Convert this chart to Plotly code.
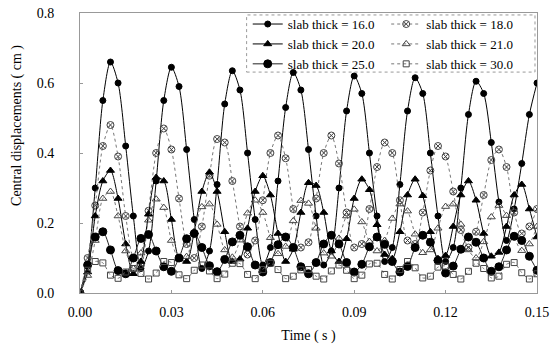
import plotly.graph_objects as go

# time samples (s)
time = [round(0.0025 * i, 4) for i in range(61)]

thick_16 = [0.00, 0.08, 0.30, 0.55, 0.66, 0.60, 0.42, 0.22, 0.07, 0.12,
            0.32, 0.55, 0.645, 0.59, 0.41, 0.21, 0.07, 0.12, 0.31, 0.54,
            0.635, 0.58, 0.40, 0.21, 0.08, 0.13, 0.32, 0.53, 0.63, 0.58,
            0.41, 0.22, 0.08, 0.12, 0.30, 0.52, 0.62, 0.57, 0.40, 0.22,
            0.09, 0.13, 0.31, 0.52, 0.615, 0.57, 0.40, 0.22, 0.09, 0.13,
            0.30, 0.51, 0.605, 0.57, 0.43, 0.26, 0.15, 0.24, 0.37, 0.51,
            0.60]
thick_18 = [0.00, 0.10, 0.25, 0.42, 0.48, 0.39, 0.22, 0.10, 0.08, 0.235,
            0.40, 0.47, 0.41, 0.27, 0.14, 0.10, 0.19, 0.335, 0.44, 0.43,
            0.32, 0.19, 0.11, 0.15, 0.265, 0.40, 0.45, 0.385, 0.24, 0.13,
            0.145, 0.27, 0.40, 0.45, 0.37, 0.23, 0.13, 0.14, 0.24, 0.36,
            0.43, 0.40, 0.265, 0.15, 0.14, 0.23, 0.35, 0.42, 0.39, 0.29,
            0.18, 0.13, 0.175, 0.28, 0.38, 0.41, 0.36, 0.23, 0.17, 0.19,
            0.24]
thick_20 = [0.00, 0.06, 0.22, 0.32, 0.35, 0.27, 0.14, 0.055, 0.09, 0.225,
            0.33, 0.32, 0.21, 0.10, 0.09, 0.175, 0.29, 0.345, 0.29, 0.175,
            0.09, 0.097, 0.185, 0.29, 0.335, 0.28, 0.17, 0.09, 0.125, 0.23,
            0.315, 0.307, 0.23, 0.12, 0.09, 0.155, 0.27, 0.325, 0.295, 0.195,
            0.11, 0.098, 0.175, 0.28, 0.325, 0.278, 0.175, 0.098, 0.107, 0.19,
            0.28, 0.32, 0.265, 0.17, 0.105, 0.116, 0.19, 0.28, 0.31, 0.24,
            0.16]
thick_21 = [0.00, 0.05, 0.15, 0.27, 0.29, 0.22, 0.12, 0.07, 0.114, 0.208,
            0.268, 0.244, 0.15, 0.097, 0.104, 0.175, 0.246, 0.254, 0.196, 0.123,
            0.102, 0.151, 0.228, 0.265, 0.23, 0.158, 0.112, 0.133, 0.206, 0.264,
            0.256, 0.185, 0.114, 0.105, 0.156, 0.22, 0.239, 0.203, 0.147, 0.12,
            0.15, 0.213, 0.254, 0.234, 0.168, 0.115, 0.123, 0.185, 0.247, 0.254,
            0.196, 0.123, 0.10, 0.146, 0.217, 0.25, 0.221, 0.16, 0.121, 0.14,
            0.19]
thick_25 = [0.00, 0.08, 0.16, 0.175, 0.123, 0.064, 0.055, 0.10, 0.156, 0.167,
            0.12, 0.075, 0.062, 0.10, 0.155, 0.17, 0.13, 0.078, 0.061, 0.096,
            0.146, 0.165, 0.132, 0.08, 0.06, 0.087, 0.138, 0.16, 0.13, 0.075,
            0.055, 0.087, 0.14, 0.165, 0.14, 0.087, 0.06, 0.082, 0.132, 0.16,
            0.139, 0.09, 0.06, 0.076, 0.13, 0.165, 0.145, 0.093, 0.057, 0.077,
            0.125, 0.16, 0.145, 0.10, 0.062, 0.075, 0.123, 0.162, 0.15, 0.105,
            0.065]
thick_30 = [0.00, 0.065, 0.09, 0.086, 0.051, 0.042, 0.06, 0.07, 0.056, 0.04,
            0.057, 0.09, 0.087, 0.052, 0.041, 0.065, 0.08, 0.063, 0.041, 0.054,
            0.085, 0.084, 0.053, 0.041, 0.067, 0.085, 0.067, 0.041, 0.048, 0.066,
            0.067, 0.048, 0.04, 0.063, 0.08, 0.065, 0.041, 0.051, 0.083, 0.085,
            0.053, 0.04, 0.067, 0.09, 0.072, 0.043, 0.048, 0.074, 0.077, 0.053,
            0.04, 0.062, 0.085, 0.07, 0.043, 0.048, 0.082, 0.087, 0.058, 0.04,
            0.055]

x_ticks = [0.00, 0.03, 0.06, 0.09, 0.12, 0.15]
y_ticks = [0.0, 0.2, 0.4, 0.6, 0.8]

FONT = "Liberation Serif"

series = [
    ("slab thick = 16.0", thick_16, "circle", 6, "black", "black", "solid", "legend"),
    ("slab thick = 18.0", thick_18, "circle-x-open", 7, "#444", "#777", "dot", "legend2"),
    ("slab thick = 20.0", thick_20, "triangle-up", 7, "black", "black", "solid", "legend"),
    ("slab thick = 21.0", thick_21, "triangle-up-open", 7, "#444", "#777", "dot", "legend2"),
    ("slab thick = 25.0", thick_25, "circle", 8, "black", "#222", "solid", "legend"),
    ("slab thick = 30.0", thick_30, "square-open", 6, "#444", "#777", "dot", "legend2"),
]

fig = go.Figure()
for name, vals, sym, size, mcol, lcol, dash, leg in series:
    fig.add_trace(go.Scatter(
        x=time, y=vals, name=name, mode="lines+markers",
        line=dict(color=lcol, width=1, dash=dash, shape="spline", smoothing=0.8),
        marker=dict(symbol=sym, size=size, color=mcol,
                    line=dict(color=mcol, width=1)),
        legend=leg,
    ))

fig.update_layout(
    width=557, height=349,
    margin=dict(l=80, r=20, t=13, b=56, autoexpand=False),
    paper_bgcolor="white", plot_bgcolor="white",
    font=dict(family=FONT, size=14, color="black"),
    showlegend=True,
    legend=dict(x=0.367, y=1.014, xanchor="left", yanchor="top",
                bgcolor="rgba(0,0,0,0)", borderwidth=0,
                font=dict(family=FONT, size=13), tracegroupgap=0),
    legend2=dict(x=0.670, y=1.014, xanchor="left", yanchor="top",
                 bgcolor="rgba(0,0,0,0)", borderwidth=0,
                 font=dict(family=FONT, size=13), tracegroupgap=0),
    shapes=[dict(type="rect", xref="paper", yref="paper",
                 x0=0.3646, x1=0.9956, y0=0.789, y1=0.993,
                 line=dict(color="#999", width=1, dash="dot"),
                 fillcolor="white", layer="below")],
    annotations=[dict(text="Central displacements ( cm )", xref="paper", yref="paper",
                      x=-0.138, y=0.60, textangle=-90, showarrow=False,
                      xanchor="center", yanchor="middle",
                      font=dict(family=FONT, size=14))],
)

fig.update_xaxes(range=[0, 0.15], tickvals=x_ticks, tickformat=".2f",
                 showgrid=False, zeroline=False,
                 showline=True, linecolor="#999", linewidth=1, mirror=True,
                 ticks="inside", ticklen=3, tickcolor="#999",
                 ticklabelstandoff=6,
                 title=dict(text="Time ( s )", standoff=11,
                            font=dict(family=FONT, size=14)))
fig.update_yaxes(range=[0, 0.8], tickvals=y_ticks, tickformat=".1f",
                 showgrid=False, zeroline=False,
                 showline=True, linecolor="#999", linewidth=1, mirror=True,
                 ticks="inside", ticklen=3, tickcolor="#999",
                 ticklabelstandoff=22)

fig.write_html("out.html")
